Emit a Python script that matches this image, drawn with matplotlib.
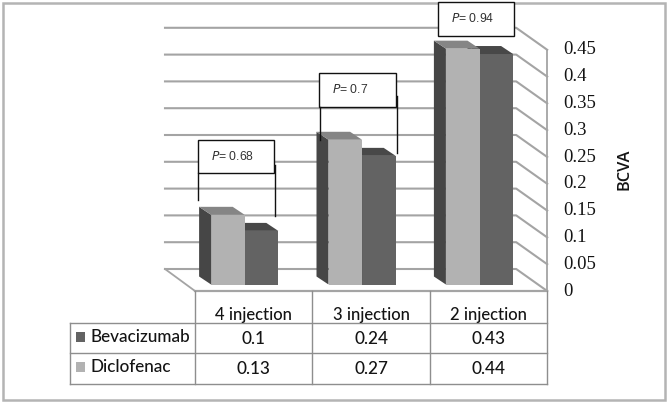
import matplotlib
matplotlib.use("Agg")
import matplotlib.pyplot as plt
from matplotlib.patches import Polygon, Rectangle

categories = ["4 injection", "3 injection", "2 injection"]
bevacizumab = [0.1, 0.24, 0.43]
diclofenac = [0.13, 0.27, 0.44]
ticks = [0, 0.05, 0.1, 0.15, 0.2, 0.25, 0.3, 0.35, 0.4, 0.45]
p_labels = ["0.68", "0.7", "0.94"]

W, H = 667, 403
X0, CAT = 195.0, 117.4      # px of plane left, px per category
Y0, PPU = 291.0, 536.0      # px of value 0, px per unit value
C_FRONT_D, C_FRONT_B = "#b2b2b2", "#636363"
C_SIDE, C_TOP_D, C_TOP_B = "#464646", "#858585", "#484848"
GRID = "#a4a4a4"
INK = "#141414"
FONT = "Lato"
NUM = "Liberation Serif"

fig = plt.figure(figsize=(W / 100, H / 100), dpi=100, facecolor="white")
ax = fig.add_axes([0, 0, 1, 1])
ax.set_xlim((0 - X0) / CAT - 0.5, (W - X0) / CAT - 0.5)
ax.set_ylim((Y0 - H) / PPU, Y0 / PPU)
ax.axis("off")
px = fig.add_axes([0, 0, 1, 1], facecolor="none")
px.set_xlim(0, W)
px.set_ylim(H, 0)
px.axis("off")

dx_wall, dv_wall = 31 / CAT, 22 / PPU   # depth of the floor
dx_bar, dv_bar = 12 / CAT, 8 / PPU      # depth of one bar
lift = 6.5 / PPU
width = 33.6 / CAT
shift = -9 / CAT
right = 2.5
left_wall = -0.5 - 30 / CAT

# frame
px.add_patch(Rectangle((2.5, 2.5), 662.5, 397.5, fc="none", ec="#b4b4b4", lw=1.8, zorder=0))

# walls and gridlines
for t in ticks:
    ax.plot([left_wall, right - dx_wall, right],
            [t + dv_wall, t + dv_wall, t], color=GRID, lw=1.5, zorder=1)
ax.plot([left_wall, -0.5], [dv_wall, 0], color=GRID, lw=1.3, zorder=1)
ax.plot([-0.5, right], [0, 0], color=GRID, lw=1.6, zorder=1)
ax.plot([right, right], [0, ticks[-1]], color=GRID, lw=1.3, zorder=1)


def bar3d(x, v, front, top, z):
    ax.bar(x, v, width=width, bottom=lift, align="edge", color=front, lw=0, zorder=z)
    t = v + lift
    ax.add_patch(Polygon([(x, lift), (x, t), (x - dx_bar, t + dv_bar), (x - dx_bar, lift + dv_bar)],
                         fc=C_SIDE, ec="none", zorder=z))
    ax.add_patch(Polygon([(x, t), (x + width, t), (x + width - dx_bar, t + dv_bar), (x - dx_bar, t + dv_bar)],
                         fc=top, ec="none", zorder=z))


for i in range(3):
    bar3d(i + shift, bevacizumab[i], C_FRONT_B, C_TOP_B, 3)
for i in range(3):
    bar3d(i + shift - width, diclofenac[i], C_FRONT_D, C_TOP_D, 4)

# y tick labels
for t in ticks:
    ax.text(right + 16 / CAT, t, f"{t:g}", family=NUM, fontsize=13.5, color=INK,
            ha="left", va="center", zorder=6)
px.text(625, 169, "BCVA", rotation=90, family="Open Sans", fontsize=11.8, weight="semibold",
        color=INK, ha="center", va="center", zorder=6)

# P-value boxes with brackets
boxes = [(198, 140, 76, 33, 200, 165, 216, 198),
         (319, 73, 77, 34, 140, 96, 153, 320),
         (438, 2, 76, 34, None, None, None, None)]
for (bx, by, bw, bh, ly, ry0, ry1, lx), lab in zip(boxes, p_labels):
    px.add_patch(Rectangle((bx, by), bw, bh, fc="white", ec="#111111", lw=1.0, zorder=7))
    px.text(bx + 13, by + bh / 2 - 0.5, f"$\\mathit{{P}}$= {lab}", family="Liberation Sans",
            fontsize=8.8, color="#333333", ha="left", va="center", zorder=8,
            math_fontfamily="dejavusans")
    if ly is not None:
        px.plot([lx, lx], [by + bh, ly], color="#111111", lw=1.0, zorder=7)
        px.plot([bx + bw + 0.5] * 2, [ry0, ry1], color="#111111", lw=1.0, zorder=7)

# data table
xs = [X0 + CAT * k for k in range(4)]
rows = [323, 353, 384]
TBL = "#8e8e8e"
for x in xs:
    px.plot([x, x], [291, rows[2]], color=TBL, lw=1.0, zorder=5)
px.plot([70, 70], [rows[0], rows[2]], color=TBL, lw=1.0, zorder=5)
for y in rows:
    px.plot([70, xs[3]], [y, y], color=TBL, lw=1.0, zorder=5)

for k, c in enumerate(categories):
    cx = (xs[k] + xs[k + 1]) / 2
    px.text(cx, 315, c, family=FONT, fontsize=12, weight="medium", color=INK,
            ha="center", va="center", zorder=6)
    px.text(cx, 338.5, f"{bevacizumab[k]:g}", family=FONT, fontsize=12.3, weight="medium",
            color=INK, ha="center", va="center", zorder=6)
    px.text(cx, 368.5, f"{diclofenac[k]:g}", family=FONT, fontsize=12.3, weight="medium",
            color=INK, ha="center", va="center", zorder=6)

for name, y, col in [("Bevacizumab", 337, C_FRONT_B), ("Diclofenac", 367, C_FRONT_D)]:
    px.add_patch(Rectangle((76, y - 5), 9, 10, fc=col, ec="none", zorder=6))
    px.text(90, y, name, family=FONT, fontsize=12.3, weight="medium", color=INK,
            ha="left", va="center", zorder=6)

fig.savefig("out.png", dpi=100)
